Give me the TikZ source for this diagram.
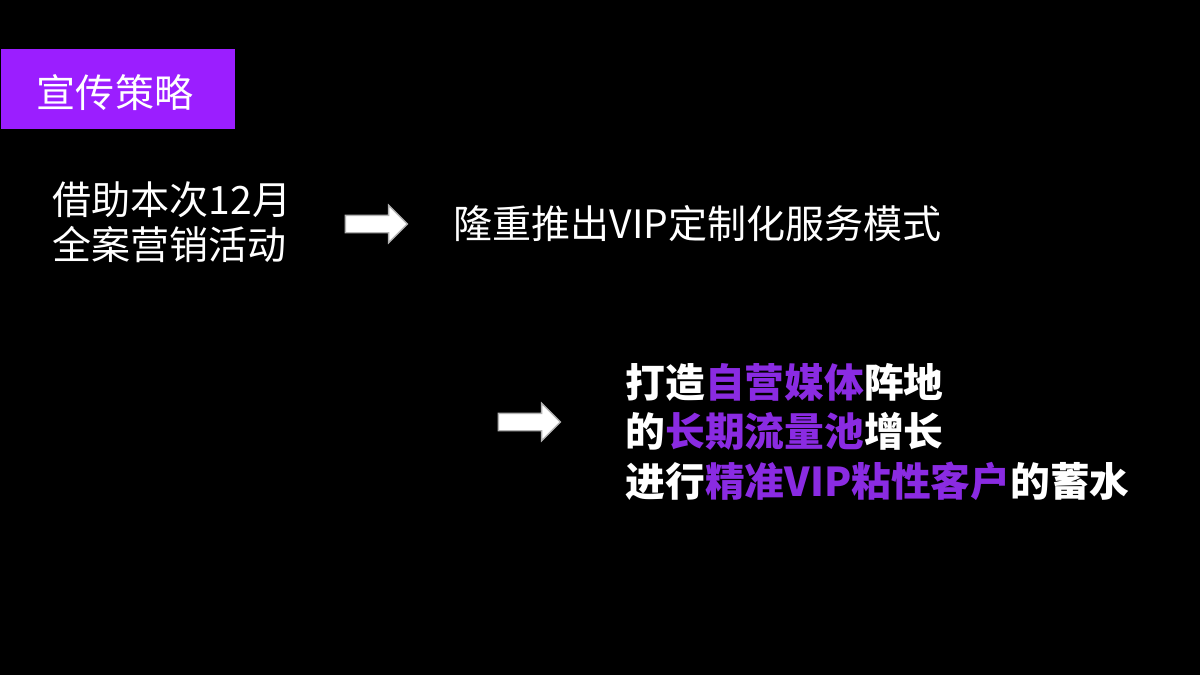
\documentclass[tikz,border=0pt]{standalone}
\usepackage{fontspec}
\setmainfont{Noto Sans CJK SC}
\usetikzlibrary{shapes.arrows}
\definecolor{vio}{HTML}{9B1EFF}
\definecolor{vtx}{HTML}{8A2BE2}
\tikzset{
 body/.style={text=white,anchor=west,inner sep=0pt,font=\fontsize{11.1pt}{12.9pt}\selectfont,align=left},
 bold/.style={text=white,anchor=west,inner sep=0pt,font=\fontsize{11.3pt}{14pt}\selectfont\bfseries,align=left},
 arr/.style={single arrow,fill=white,draw=gray!60,line width=0.4pt,minimum height=0.62cm,single arrow head extend=0.1cm,inner sep=0pt}
}
\begin{document}
\begin{tikzpicture}[x=0.01cm,y=-0.01cm]
\fill[black] (0,0) rectangle (1200,675);
\useasboundingbox (0,0) rectangle (1200,675);
\node[fill=vio,minimum width=2.34cm,minimum height=0.8cm,inner sep=0pt,anchor=north west] (t) at (0,48) {};
\node[text=white,font=\fontsize{11.1pt}{12pt}\selectfont] (tt) at (115,93) {宣传策略};
\node[body] (a) at (52,222) {借助本次12月\\全案营销活动};
\node[arr] (r1) at (372,224) {\rule{0pt}{0.16cm}};
\node[body] (b) at (453,224) {隆重推出VIP定制化服务模式};
\node[arr] (r2) at (525,422) {\rule{0pt}{0.16cm}};
\node[bold] (c) at (625,432) {打造\textcolor{vtx}{自营媒体}阵地\\的\textcolor{vtx}{长期流量池}增长\\进行\textcolor{vtx}{精准VIP粘性客户}的蓄水};
\end{tikzpicture}
\end{document}
